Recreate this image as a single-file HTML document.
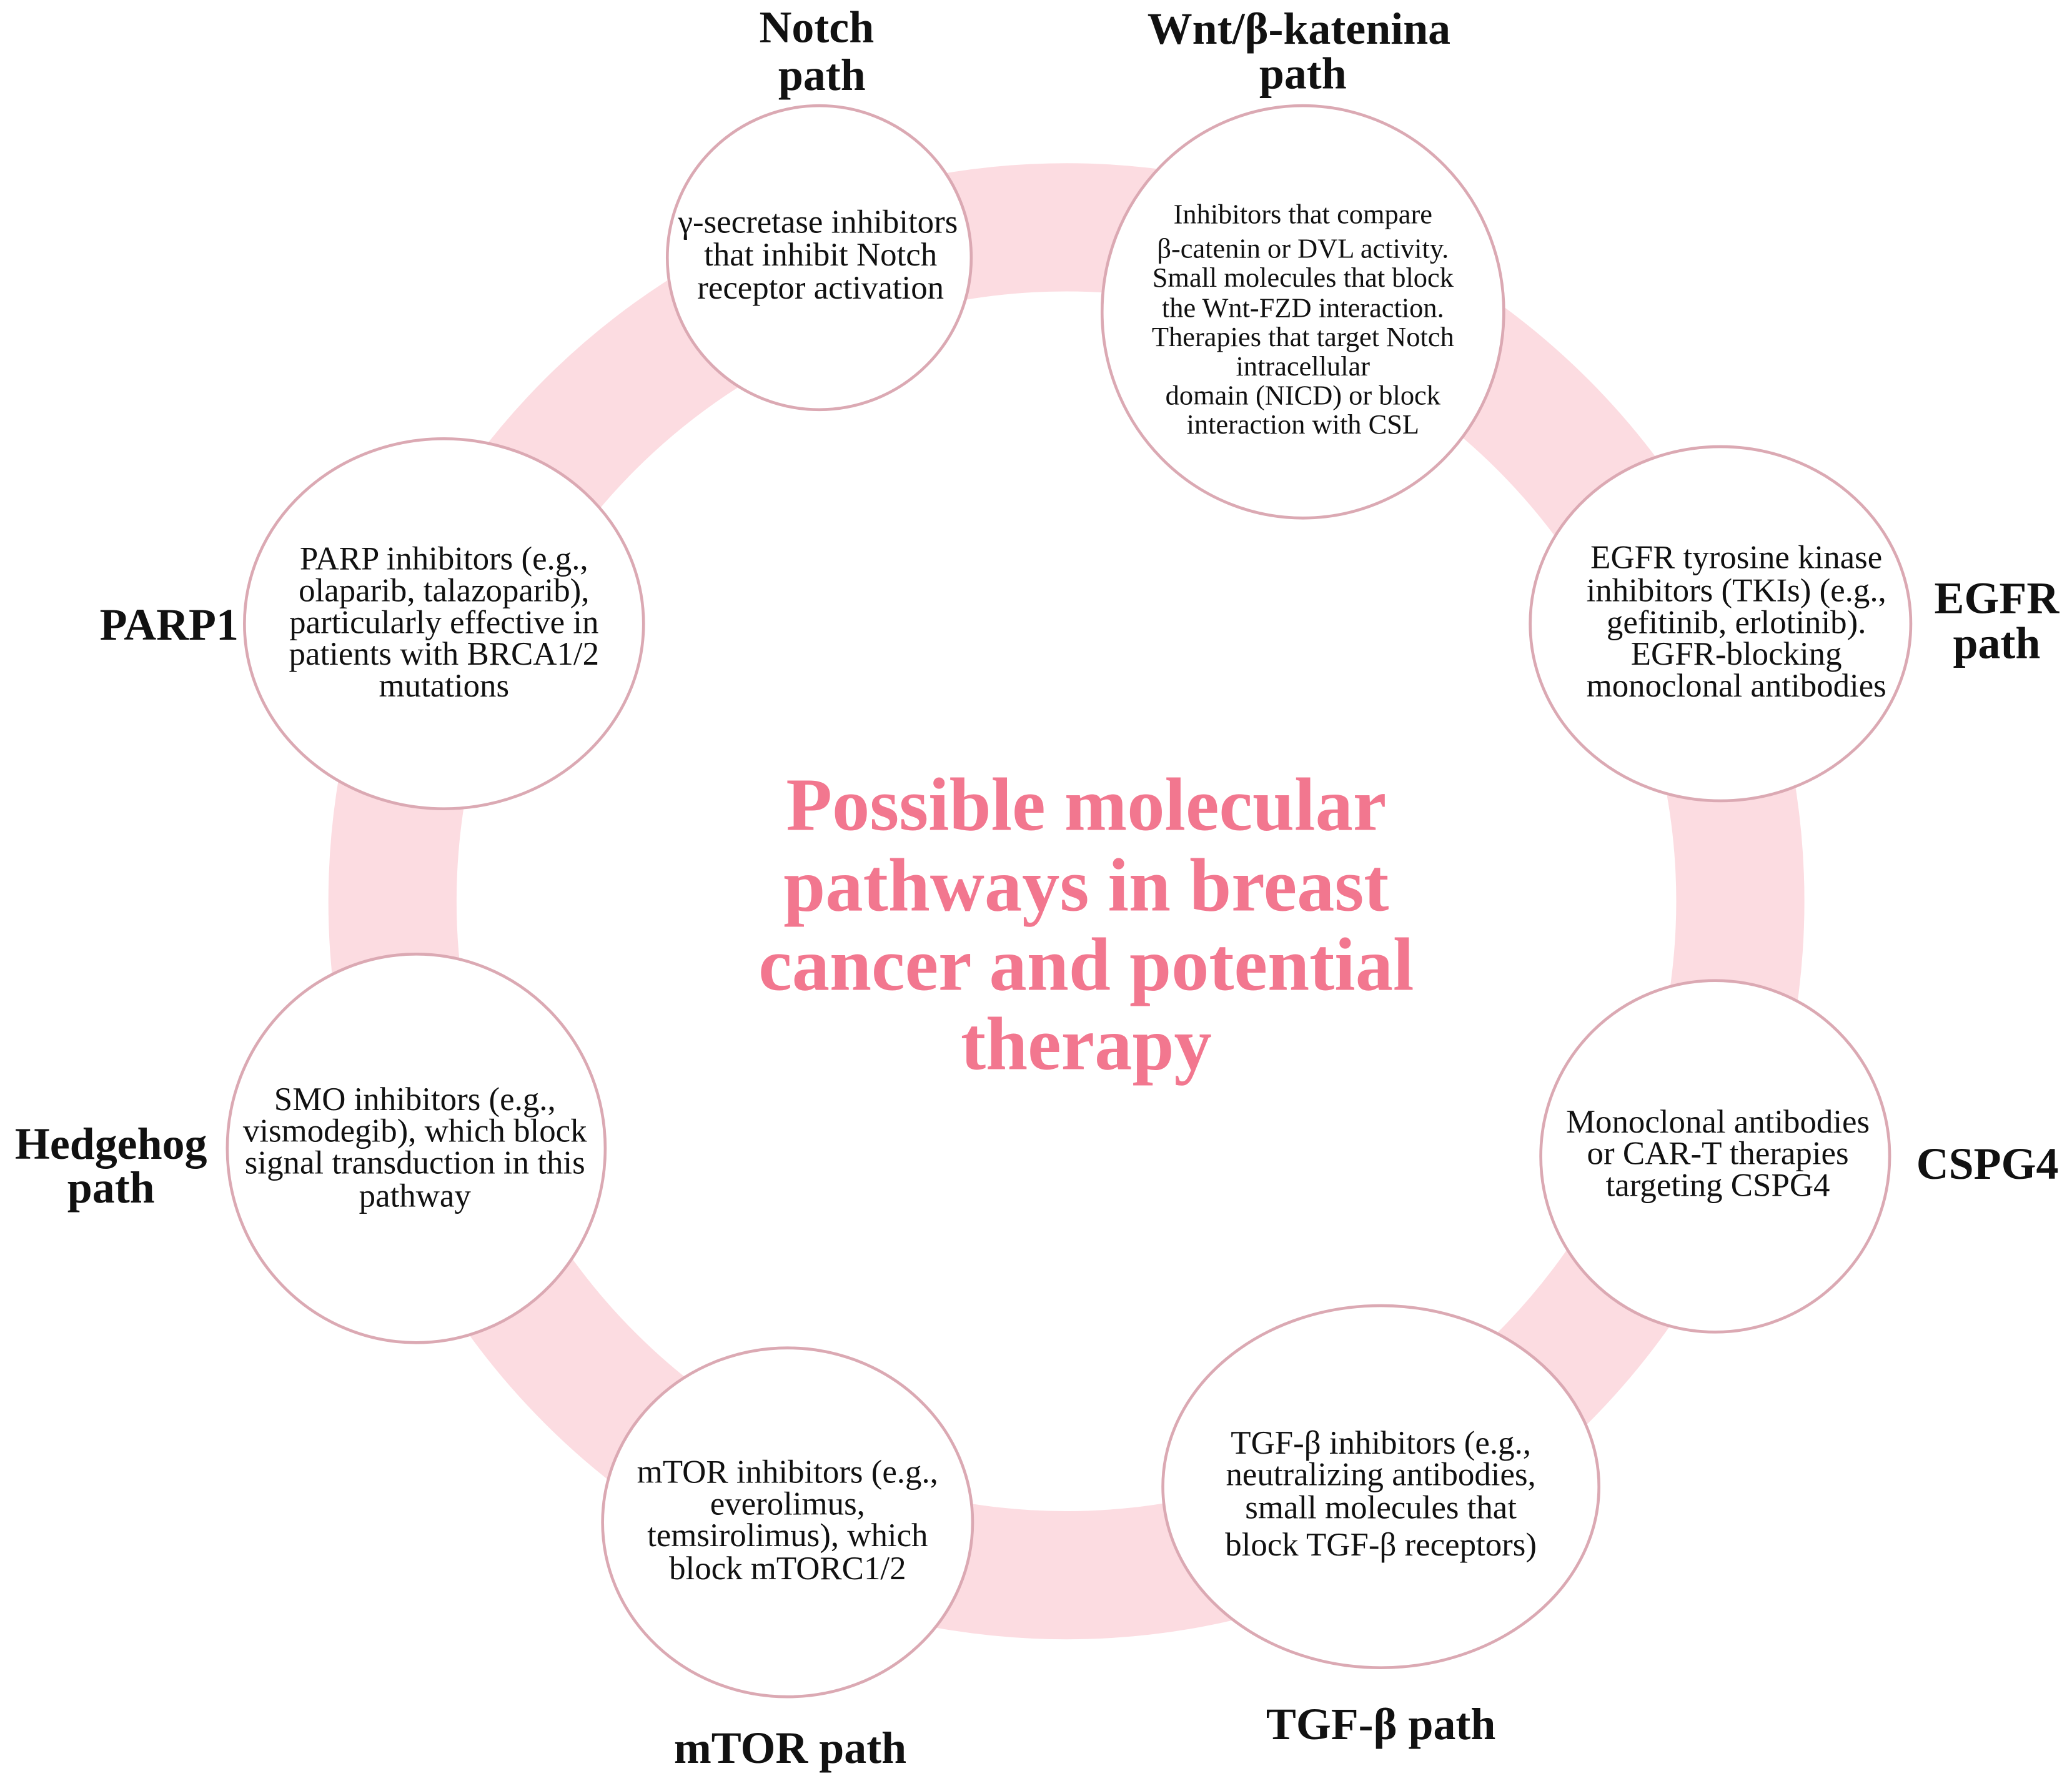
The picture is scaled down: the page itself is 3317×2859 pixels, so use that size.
<!DOCTYPE html>
<html><head><meta charset="utf-8"><style>
html,body{margin:0;padding:0;background:#fff;}
svg{display:block;}
text{font-family:"Liberation Serif",serif;fill:#111;text-anchor:middle;}
.b{font-size:25px;}
.w{font-size:21px;}
.l{font-size:34px;font-weight:bold;}
.t{font-size:57px;font-weight:bold;fill:#f2778f;}
</style></head><body>
<svg width="3317" height="2859" viewBox="0 0 1568 1351.5" xmlns="http://www.w3.org/2000/svg">
<rect width="1568" height="1351.5" fill="#fff"/>
<circle cx="807" cy="682" r="510" fill="none" stroke="#fcdce1" stroke-width="97"/>
<g fill="#fff" stroke="#dba9b3" stroke-width="2.2">
<ellipse cx="620" cy="195" rx="115" ry="115"/>
<ellipse cx="986" cy="236" rx="152" ry="156"/>
<ellipse cx="1302" cy="472" rx="144" ry="134"/>
<ellipse cx="1298" cy="875" rx="132" ry="133"/>
<ellipse cx="1045" cy="1125" rx="165" ry="137"/>
<ellipse cx="596" cy="1152" rx="140" ry="132"/>
<ellipse cx="315" cy="869" rx="143" ry="147"/>
<ellipse cx="336" cy="472" rx="151" ry="140"/>
</g>
<text class="b"><tspan x="619" y="176">γ-secretase inhibitors</tspan><tspan x="621" y="201">that inhibit Notch</tspan><tspan x="621" y="226">receptor activation</tspan></text>
<text class="w"><tspan x="986" y="169">Inhibitors that compare</tspan><tspan x="986" y="195">β-catenin or DVL activity.</tspan><tspan x="986" y="217">Small molecules that block</tspan><tspan x="986" y="240">the Wnt-FZD interaction.</tspan><tspan x="986" y="262">Therapies that target Notch</tspan><tspan x="986" y="284">intracellular</tspan><tspan x="986" y="306">domain (NICD) or block</tspan><tspan x="986" y="328">interaction with CSL</tspan></text>
<text class="b"><tspan x="1314" y="430">EGFR tyrosine kinase</tspan><tspan x="1314" y="455">inhibitors (TKIs) (e.g.,</tspan><tspan x="1314" y="479">gefitinib, erlotinib).</tspan><tspan x="1314" y="503">EGFR-blocking</tspan><tspan x="1314" y="527">monoclonal antibodies</tspan></text>
<text class="b"><tspan x="1300" y="857">Monoclonal antibodies</tspan><tspan x="1300" y="881">or CAR-T therapies</tspan><tspan x="1300" y="905">targeting CSPG4</tspan></text>
<text class="b"><tspan x="1045" y="1100">TGF-β inhibitors (e.g.,</tspan><tspan x="1045" y="1124">neutralizing antibodies,</tspan><tspan x="1045" y="1149">small molecules that</tspan><tspan x="1045" y="1177">block TGF-β receptors)</tspan></text>
<text class="b"><tspan x="596" y="1122">mTOR inhibitors (e.g.,</tspan><tspan x="596" y="1146">everolimus,</tspan><tspan x="596" y="1170">temsirolimus), which</tspan><tspan x="596" y="1195">block mTORC1/2</tspan></text>
<text class="b"><tspan x="314" y="840">SMO inhibitors (e.g.,</tspan><tspan x="314" y="864">vismodegib), which block</tspan><tspan x="314" y="888">signal transduction in this</tspan><tspan x="314" y="913">pathway</tspan></text>
<text class="b"><tspan x="336" y="431">PARP inhibitors (e.g.,</tspan><tspan x="336" y="455">olaparib, talazoparib),</tspan><tspan x="336" y="479">particularly effective in</tspan><tspan x="336" y="503">patients with BRCA1/2</tspan><tspan x="336" y="527">mutations</tspan></text>
<text class="l"><tspan x="618" y="32">Notch</tspan><tspan x="622" y="68">path</tspan></text>
<text class="l"><tspan x="983" y="33">Wnt/β-katenina</tspan><tspan x="986" y="67">path</tspan></text>
<text class="l"><tspan x="1511" y="464">EGFR</tspan><tspan x="1511" y="498">path</tspan></text>
<text class="l"><tspan x="1504" y="892">CSPG4</tspan></text>
<text class="l"><tspan x="1045" y="1316">TGF-β path</tspan></text>
<text class="l"><tspan x="598" y="1334">mTOR path</tspan></text>
<text class="l"><tspan x="84" y="877">Hedgehog</tspan><tspan x="84" y="910">path</tspan></text>
<text class="l"><tspan x="128" y="484">PARP1</tspan></text>
<text class="t"><tspan x="822" y="628">Possible molecular</tspan><tspan x="822" y="689">pathways in breast</tspan><tspan x="822" y="749">cancer and potential</tspan><tspan x="822" y="809">therapy</tspan></text>
</svg>
</body></html>
